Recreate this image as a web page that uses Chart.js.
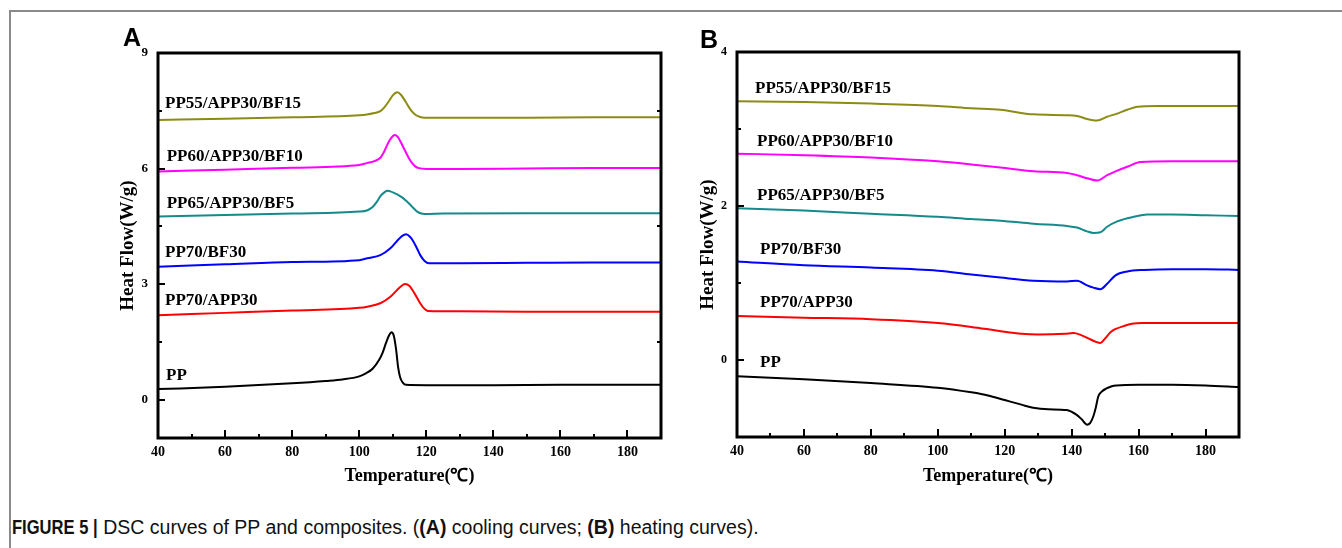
<!DOCTYPE html>
<html><head><meta charset="utf-8">
<script src="https://cdn.jsdelivr.net/npm/chart.js@4.4.0/dist/chart.umd.min.js"></script>
<style>
html,body{margin:0;padding:0;background:#fff;}
#wrap{position:relative;width:1342px;height:548px;overflow:hidden;background:#fff;}
#frame{position:absolute;left:9px;top:10px;width:1340px;height:545px;border-top:2px solid #8a8a8a;border-left:2px solid #8a8a8a;}
canvas{position:absolute;top:0;}
#cA{left:0px} #cB{left:680px}
.plabel{position:absolute;font-family:"Liberation Sans",Arial,sans-serif;font-weight:bold;font-size:25px;line-height:25px;color:#000;}
#cap{position:absolute;left:12px;top:517px;font-family:"Liberation Sans",Arial,sans-serif;font-size:19.5px;line-height:20px;white-space:nowrap;color:#111;}
#cap .fig{font-weight:bold;display:inline-block;transform:scaleX(0.85);transform-origin:0 50%;margin-right:-15px;}
</style></head><body>
<div id="wrap">
<div id="frame"></div>
<canvas id="cA" width="680" height="500"></canvas>
<canvas id="cB" width="662" height="500"></canvas>
<div class="plabel" style="left:123px;top:25px">A</div>
<div class="plabel" style="left:700px;top:27px">B</div>
<div id="cap"><span class="fig">FIGURE 5 |</span> DSC curves of PP and composites. (<b>(A)</b> cooling curves; <b>(B)</b> heating curves).</div>
</div>
<script>
// ---------- names / colours ----------
const seriesNames = ['PP', 'PP70/APP30', 'PP70/BF30', 'PP65/APP30/BF5', 'PP60/APP30/BF10', 'PP55/APP30/BF15'];
const seriesColors = ['#000000', '#ff0000', '#0000ff', '#168a8a', '#ff00ff', '#8c8c14'];

// ---------- ticks ----------
const xMajorTicks = [40, 60, 80, 100, 120, 140, 160, 180];
const xMinorTicks = [50, 70, 90, 110, 130, 150, 170];
const yMajorTicksA = [0, 3, 6, 9];
const yMinorTicksA = [1.5, 4.5, 7.5];
const yMajorTicksB = [0, 2, 4];
const yMinorTicksB = [1, 3];

// ---------- (A) cooling curves ----------
const ppCoolT = [40, 60, 80, 90, 95, 100, 102, 104, 106, 107, 108, 109, 109.6, 110.3, 111, 111.6, 112.2, 113, 114, 120, 140, 160, 190];
const ppCoolHF = [0.27, 0.33, 0.42, 0.48, 0.52, 0.60, 0.68, 0.80, 1.04, 1.22, 1.47, 1.68, 1.75, 1.66, 1.30, 0.84, 0.58, 0.44, 0.38, 0.37, 0.37, 0.38, 0.38];

const app30CoolT = [40, 60, 80, 100, 102.4, 106.3, 109.3, 112.3, 113.7, 115, 116.2, 117.2, 118.2, 119.2, 120.5, 130, 150, 170, 190];
const app30CoolHF = [2.19, 2.25, 2.31, 2.38, 2.41, 2.50, 2.67, 2.93, 3.00, 2.95, 2.80, 2.65, 2.50, 2.38, 2.30, 2.29, 2.28, 2.28, 2.28];

const bf30CoolT = [40, 60, 80, 100, 102.4, 106.3, 109.3, 112.3, 114, 115.2, 116.2, 117.2, 118.2, 119.5, 120.8, 130, 150, 170, 190];
const bf30CoolHF = [3.45, 3.51, 3.57, 3.62, 3.67, 3.75, 3.93, 4.21, 4.29, 4.22, 4.10, 3.93, 3.75, 3.60, 3.54, 3.54, 3.55, 3.56, 3.56];

const bf5CoolT = [40, 60, 80, 100, 102.3, 104, 105.3, 106.5, 107.5, 108.4, 109.5, 110.5, 111.7, 112.8, 114, 115.3, 116.3, 117.3, 118.5, 119.5, 125, 150, 170, 190];
const bf5CoolHF = [4.75, 4.79, 4.83, 4.88, 4.91, 5.00, 5.14, 5.30, 5.38, 5.42, 5.40, 5.36, 5.31, 5.25, 5.16, 5.05, 4.96, 4.88, 4.83, 4.82, 4.83, 4.84, 4.84, 4.84];

const bf10CoolT = [40, 60, 80, 100, 102.3, 104.5, 106.3, 107.5, 108.5, 109.5, 110.6, 111.5, 112.3, 113.8, 115, 115.8, 116.8, 117.8, 120, 130, 150, 170, 190];
const bf10CoolHF = [5.92, 5.97, 6.02, 6.09, 6.14, 6.19, 6.28, 6.45, 6.64, 6.79, 6.87, 6.82, 6.70, 6.44, 6.24, 6.14, 6.05, 6.01, 5.99, 5.99, 6.00, 6.01, 6.01];

const bf15CoolT = [40, 60, 80, 100, 102.3, 104.5, 106.3, 107.5, 108.8, 110, 111.4, 112.5, 113.8, 115, 116.3, 117.5, 119.3, 125, 150, 170, 190];
const bf15CoolHF = [7.26, 7.29, 7.33, 7.38, 7.40, 7.44, 7.49, 7.59, 7.74, 7.90, 7.98, 7.91, 7.74, 7.57, 7.43, 7.36, 7.32, 7.32, 7.32, 7.33, 7.33];

// ---------- (B) heating curves ----------
const ppHeatT = [40, 60, 80, 100, 110, 115, 120, 125, 128.5, 133, 138.5, 141.4, 143, 144.6, 145.5, 146.4, 147.2, 147.9, 149, 150.4, 152, 153.4, 160, 170, 180, 190];
const ppHeatHF = [-0.21, -0.25, -0.30, -0.36, -0.42, -0.46, -0.52, -0.58, -0.62, -0.64, -0.65, -0.71, -0.77, -0.84, -0.82, -0.74, -0.62, -0.48, -0.41, -0.37, -0.34, -0.33, -0.32, -0.32, -0.33, -0.35];

const app30HeatT = [40, 60, 80, 100, 110, 118, 125, 130, 138, 140.5, 142.5, 145, 147, 148.6, 150, 151.6, 153, 155.5, 158, 161, 170, 180, 190];
const app30HeatHF = [0.57, 0.55, 0.53, 0.48, 0.43, 0.38, 0.34, 0.33, 0.34, 0.35, 0.33, 0.28, 0.24, 0.22, 0.28, 0.36, 0.40, 0.44, 0.47, 0.48, 0.48, 0.48, 0.48];

const bf30HeatT = [40, 60, 80, 100, 110, 118.7, 128.6, 138.6, 141.6, 144.6, 146.5, 148.6, 150.6, 153.1, 156.6, 161.6, 170, 180, 190];
const bf30HeatHF = [1.28, 1.23, 1.20, 1.16, 1.11, 1.07, 1.03, 1.02, 1.03, 0.97, 0.94, 0.92, 0.99, 1.10, 1.15, 1.17, 1.18, 1.18, 1.17];

const bf5HeatT = [40, 60, 80, 100, 110, 118.7, 128.6, 138.6, 141.6, 144.6, 146.5, 148.6, 150.6, 153.6, 158.6, 162.6, 170, 180, 190];
const bf5HeatHF = [1.97, 1.94, 1.90, 1.86, 1.83, 1.81, 1.77, 1.74, 1.72, 1.67, 1.65, 1.66, 1.73, 1.80, 1.86, 1.89, 1.89, 1.88, 1.87];

const bf10HeatT = [40, 60, 80, 100, 110, 118.7, 128.6, 138.6, 141.6, 144.6, 147.6, 150.6, 153.1, 156.6, 160.6, 170, 180, 190];
const bf10HeatHF = [2.68, 2.66, 2.63, 2.58, 2.54, 2.50, 2.45, 2.43, 2.40, 2.36, 2.33, 2.40, 2.45, 2.51, 2.57, 2.58, 2.58, 2.58];

const bf15HeatT = [40, 60, 80, 100, 110, 118.7, 128.6, 138.6, 141.6, 144.6, 147.6, 150.6, 153.6, 156.6, 159.6, 165.6, 180, 190];
const bf15HeatHF = [3.36, 3.35, 3.33, 3.30, 3.27, 3.25, 3.19, 3.18, 3.17, 3.13, 3.11, 3.16, 3.20, 3.25, 3.29, 3.30, 3.30, 3.30];

// ---------- curve label anchors (data coordinates) ----------
const labelAnchorA = [[42.4, 0.61], [42.1, 2.58], [42.1, 3.81], [42.6, 5.10], [42.6, 6.30], [42.1, 7.68]];
const labelAnchorB = [[46.9, -0.04], [46.9, 0.74], [46.9, 1.43], [46.0, 2.13], [46.0, 2.84], [45.4, 3.53]];

const SERIF = '"Liberation Serif", "Times New Roman", serif';
Chart.defaults.font.family = SERIF;
Chart.defaults.color = '#000';

const decor = {
  id: 'decor',
  afterDatasetsDraw(chart, args, o) {
    const {ctx, chartArea: a, scales: {x, y}} = chart;
    ctx.save();
    ctx.strokeStyle = '#000';
    ctx.lineWidth = 2;
    ctx.beginPath();
    xMajorTicks.forEach(v => { const px = Math.round(x.getPixelForValue(v)); ctx.moveTo(px, a.bottom); ctx.lineTo(px, a.bottom - 8); });
    xMinorTicks.forEach(v => { const px = Math.round(x.getPixelForValue(v)); ctx.moveTo(px, a.bottom); ctx.lineTo(px, a.bottom - 4); });
    o.yMajor.forEach(v => { const py = Math.round(y.getPixelForValue(v)); ctx.moveTo(a.left, py); ctx.lineTo(a.left + 7, py); });
    o.yMinor.forEach(v => { const py = Math.round(y.getPixelForValue(v)); ctx.moveTo(a.left, py); ctx.lineTo(a.left + 4, py); });
    if (o.rightMinor) {
      o.yMinor.forEach(v => { const py = Math.round(y.getPixelForValue(v)); ctx.moveTo(a.right, py); ctx.lineTo(a.right - 4, py); });
    }
    ctx.stroke();
    ctx.lineWidth = 3;
    ctx.strokeRect(a.left, a.top, a.right - a.left, a.bottom - a.top);
    ctx.fillStyle = '#000';
    ctx.font = 'bold 17px ' + SERIF;
    ctx.textAlign = 'left';
    ctx.textBaseline = 'middle';
    o.anchors.forEach((p, i) => {
      ctx.fillText(seriesNames[i], x.getPixelForValue(p[0]), y.getPixelForValue(p[1]));
    });
    ctx.restore();
  }
};

function makePanel(id, seriesT, seriesHF, yMin, yMax, yMajor, yMinor, pad, yW, xH, anchors, rightMinor, yTickSize) {
  const datasets = seriesT.map((T, i) => ({
    label: seriesNames[i],
    data: T.map((t, k) => ({x: t, y: seriesHF[i][k]})),
    borderColor: seriesColors[i],
    borderWidth: 2,
    pointRadius: 0,
    fill: false,
    cubicInterpolationMode: 'monotone'
  }));
  const yAll = yMajor.concat(yMinor).sort((p, q) => p - q);
  const xAll = xMajorTicks.concat(xMinorTicks, [190]).sort((p, q) => p - q);
  return new Chart(document.getElementById(id), {
    type: 'line',
    data: {datasets},
    options: {
      responsive: false,
      animation: false,
      layout: {padding: pad},
      plugins: {legend: {display: false}, tooltip: {enabled: false},
        decor: {yMajor, yMinor, anchors, rightMinor}},
      scales: {
        x: {
          type: 'linear', min: 40, max: 190,
          afterBuildTicks: s => { s.ticks = xAll.map(v => ({value: v})); },
          afterFit: s => { s.height = xH; },
          ticks: {autoSkip: false, maxRotation: 0, padding: 6, color: '#000',
            font: {family: SERIF, weight: 'bold', size: 14},
            callback: v => xMajorTicks.includes(v) ? String(v) : ''},
          grid: {display: false, drawTicks: false},
          border: {display: false},
          title: {display: true, text: 'Temperature(℃)', color: '#000', padding: 0,
            font: {family: SERIF, weight: 'bold', size: 18}}
        },
        y: {
          type: 'linear', min: yMin, max: yMax,
          afterBuildTicks: s => { s.ticks = yAll.map(v => ({value: v})); },
          afterFit: s => { s.width = yW; },
          ticks: {autoSkip: false, padding: 10, color: '#000',
            font: {family: SERIF, weight: 'bold', size: yTickSize},
            callback: v => yMajor.includes(v) ? String(v) : ''},
          grid: {display: false, drawTicks: false},
          border: {display: false},
          title: {display: true, text: 'Heat Flow(W/g)', color: '#000', padding: 0,
            font: {family: SERIF, weight: 'bold', size: 19}}
        }
      }
    },
    plugins: [decor]
  });
}

makePanel('cA',
  [ppCoolT, app30CoolT, bf30CoolT, bf5CoolT, bf10CoolT, bf15CoolT],
  [ppCoolHF, app30CoolHF, bf30CoolHF, bf5CoolHF, bf10CoolHF, bf15CoolHF],
  -1, 9, yMajorTicksA, yMinorTicksA,
  {left: 117, top: 53, right: 19, bottom: 13}, 41, 49, labelAnchorA, true, 13);

makePanel('cB',
  [ppHeatT, app30HeatT, bf30HeatT, bf5HeatT, bf10HeatT, bf15HeatT],
  [ppHeatHF, app30HeatHF, bf30HeatHF, bf5HeatHF, bf10HeatHF, bf15HeatHF],
  -1, 4, yMajorTicksB, yMinorTicksB,
  {left: 17, top: 52, right: 103, bottom: 13}, 40, 50, labelAnchorB, false, 12);
</script>
</body></html>
